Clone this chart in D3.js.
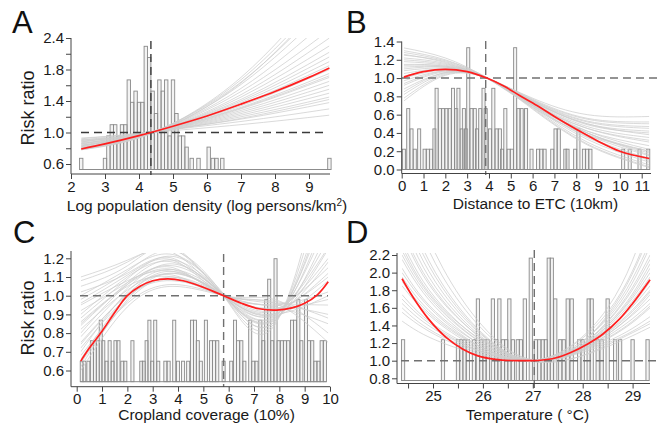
<!DOCTYPE html>
<html>
<head>
<meta charset="utf-8">
<script src="https://cdn.jsdelivr.net/npm/d3@7"></script>
<style>
body { margin: 0; background: #fff; }
</style>
</head>
<body>
<svg id="chart" width="658" height="425"></svg>
<script>
// ---- A: log population density ----
const aBinX = [2.3, 3.0, 3.1, 3.2, 3.3, 3.4, 3.5, 3.6, 3.7, 3.8, 3.9, 4.0, 4.1, 4.2, 4.3, 4.4, 4.5, 4.6, 4.7, 4.8, 4.9, 5.0, 5.1, 5.2, 5.3, 5.4, 5.55, 5.75, 6.05, 6.17, 6.28, 6.45, 9.6];
const aBinN = [1, 1, 3, 4, 4, 3, 4, 4, 8, 6, 7, 6, 6, 11, 10, 7, 5, 8, 7, 8, 3, 8, 5, 3, 3, 2, 1, 1, 2, 1, 1, 1, 1];
const aRedX = [2.3, 3, 4, 5, 6, 7, 8, 9, 9.6];
const aRedY = [0.79, 0.855, 0.96, 1.08, 1.21, 1.36, 1.52, 1.70, 1.82];
const aBootX = [2.3, 4.35, 7, 9.6];
const aBoot = [
  [0.92, 1.0, 1.10, 1.22], [0.85, 1.0, 1.14, 1.30], [0.90, 1.01, 1.17, 1.38],
  [0.82, 0.99, 1.20, 1.45], [0.88, 1.0, 1.22, 1.50], [0.93, 1.01, 1.24, 1.55],
  [0.80, 0.99, 1.26, 1.60], [0.86, 1.0, 1.28, 1.65], [0.91, 1.0, 1.30, 1.70],
  [0.84, 1.0, 1.32, 1.75], [0.89, 1.01, 1.34, 1.80], [0.79, 0.99, 1.36, 1.85],
  [0.87, 1.0, 1.38, 1.90], [0.83, 1.0, 1.40, 1.96], [0.90, 1.01, 1.42, 2.02],
  [0.81, 0.99, 1.45, 2.10], [0.86, 1.0, 1.48, 2.20], [0.78, 0.99, 1.52, 2.30],
  [0.84, 1.0, 1.56, 2.45], [0.80, 0.99, 1.61, 2.60], [0.82, 1.0, 1.64, 2.70],
  [0.79, 0.99, 1.67, 2.80], [0.81, 0.99, 1.70, 2.90], [0.78, 0.98, 1.63, 2.75],
  [0.88, 1.0, 1.18, 1.42], [0.83, 1.0, 1.31, 1.72]
];
const aRef = 4.35;
const aXTicks = [2, 3, 4, 5, 6, 7, 8, 9];
const aYTicks = [0.6, 0.8, 1.0, 1.2, 1.4, 1.6, 1.8, 2.0, 2.2];
const aYLabels = ["0.6", "", "1.0", "", "1.4", "", "1.8", "", "2.4"];

// ---- B: distance to ETC ----
const bBinX = [0.1, 0.3, 0.45, 0.6, 0.8, 1.05, 1.2, 1.35, 1.5, 1.6, 1.75, 1.9, 2.05, 2.2, 2.35, 2.5, 2.6, 2.75, 2.85, 2.95, 3.05, 3.2, 3.35, 3.45, 3.6, 3.75, 3.85, 4.05, 4.2, 4.35, 4.5, 4.6, 4.75, 4.9, 5.05, 5.2, 5.35, 5.5, 5.7, 5.95, 6.25, 6.4, 6.55, 6.9, 7.05, 7.2, 7.5, 7.6, 7.95, 8.1, 8.35, 8.5, 8.65, 10.15, 10.45, 10.9, 11.3];
const bBinN = [1, 3, 2, 1, 2, 1, 1, 1, 2, 4, 3, 3, 3, 3, 4, 3, 4, 2, 3, 2, 6, 3, 3, 2, 3, 4, 3, 2, 4, 2, 2, 1, 3, 1, 1, 6, 3, 3, 3, 1, 1, 1, 1, 1, 2, 2, 1, 1, 1, 2, 1, 1, 1, 1, 1, 1, 1];
const bRedX = [0.1, 1, 2, 3, 3.9, 4.7, 5.4, 6.2, 7, 8, 9, 10, 11.35];
const bRedY = [1.01, 1.07, 1.095, 1.07, 1.0, 0.91, 0.81, 0.70, 0.58, 0.44, 0.31, 0.20, 0.12];
const bBootX = [0.1, 2, 3.9, 6, 8.5, 11.35];
const bBoot = [
  [1.33, 1.22, 1.0, 0.68, 0.38, 0.20], [1.30, 1.20, 1.0, 0.70, 0.42, 0.26],
  [1.28, 1.19, 1.01, 0.72, 0.45, 0.32], [1.25, 1.18, 1.0, 0.74, 0.50, 0.38],
  [1.22, 1.16, 1.0, 0.75, 0.52, 0.45], [1.20, 1.15, 1.0, 0.70, 0.36, 0.12],
  [1.18, 1.14, 1.0, 0.68, 0.30, 0.05], [1.15, 1.13, 1.0, 0.76, 0.55, 0.50],
  [1.12, 1.12, 1.0, 0.78, 0.60, 0.58], [1.10, 1.12, 1.0, 0.72, 0.40, 0.18],
  [1.08, 1.11, 1.0, 0.69, 0.33, 0.08], [1.05, 1.10, 1.0, 0.73, 0.45, 0.30],
  [1.02, 1.10, 1.0, 0.75, 0.49, 0.40], [1.00, 1.09, 1.0, 0.71, 0.38, 0.15],
  [0.97, 1.08, 1.0, 0.74, 0.47, 0.35], [0.94, 1.08, 1.0, 0.67, 0.28, 0.03],
  [0.92, 1.07, 1.0, 0.77, 0.56, 0.52], [0.88, 1.06, 1.0, 0.73, 0.42, 0.22],
  [0.85, 1.06, 1.0, 0.70, 0.35, 0.10], [0.82, 1.05, 1.0, 0.75, 0.50, 0.42],
  [0.78, 1.04, 1.0, 0.72, 0.40, 0.20], [0.75, 1.03, 1.0, 0.76, 0.53, 0.47],
  [1.26, 1.17, 1.0, 0.71, 0.40, 0.16], [1.14, 1.13, 1.0, 0.66, 0.27, 0.02]
];
const bRef = 3.85;
const bXTicks = [0, 1, 2, 3, 4, 5, 6, 7, 8, 9, 10, 11];
const bYTicks = [0, 0.2, 0.4, 0.6, 0.8, 1.0, 1.2, 1.4];
const bYLabels = ["0.0", "0.2", "0.4", "0.6", "0.8", "1.0", "1.2", "1.4"];

// ---- C: cropland coverage ----
const cBinX = [0.2, 0.3, 0.46, 0.6, 0.72, 0.83, 0.95, 1.05, 1.18, 1.3, 1.42, 1.53, 1.65, 1.8, 1.92, 2.2, 2.55, 2.65, 2.76, 2.87, 2.98, 3.1, 3.22, 3.5, 3.63, 3.85, 4.0, 4.2, 4.4, 4.55, 4.67, 4.78, 4.9, 5.1, 5.3, 5.42, 5.55, 5.8, 6.1, 6.25, 6.37, 6.5, 6.62, 6.85, 6.97, 7.1, 7.25, 7.37, 7.48, 7.6, 7.72, 7.85, 7.97, 8.1, 8.22, 8.35, 8.5, 8.62, 8.75, 8.87, 9.05, 9.17, 9.3, 9.42, 9.55, 9.67, 9.8];
const cBinN = [1, 1, 1, 2, 2, 2, 3, 2, 1, 2, 1, 2, 2, 1, 1, 2, 1, 1, 2, 3, 1, 3, 1, 1, 1, 3, 1, 1, 1, 3, 3, 2, 1, 3, 2, 2, 2, 1, 1, 3, 2, 2, 1, 3, 1, 1, 3, 2, 4, 5, 2, 6, 2, 2, 2, 2, 3, 3, 4, 2, 4, 2, 2, 1, 1, 2, 2];
const cRedX = [0.16, 0.5, 1, 1.5, 2, 2.5, 3, 3.6, 4.2, 4.9, 5.8, 6.5, 7.2, 7.9, 8.5, 9.0, 9.5, 9.93];
const cRedY = [0.65, 0.72, 0.81, 0.91, 1.0, 1.05, 1.08, 1.09, 1.08, 1.05, 1.0, 0.96, 0.93, 0.923, 0.935, 0.96, 1.005, 1.075];
const cBootX = [0.16, 2, 3.8, 5.8, 7.8, 9.93];
const cBoot = [
  [0.62, 0.98, 1.12, 1.0, 0.90, 1.30], [0.70, 1.02, 1.14, 1.0, 0.89, 1.40],
  [0.80, 1.06, 1.16, 1.0, 0.88, 1.50], [0.90, 1.10, 1.18, 1.0, 0.87, 1.35],
  [1.00, 1.14, 1.22, 1.01, 0.86, 1.60], [1.08, 1.18, 1.25, 1.0, 0.88, 1.25],
  [0.75, 1.00, 1.08, 1.0, 0.93, 1.10], [0.68, 0.96, 1.06, 1.0, 0.95, 1.02],
  [0.85, 1.05, 1.10, 1.0, 0.94, 1.15], [0.95, 1.08, 1.13, 1.0, 0.92, 1.20],
  [0.60, 0.94, 1.05, 1.0, 0.96, 0.95], [0.72, 0.99, 1.09, 1.0, 0.97, 0.88],
  [0.82, 1.03, 1.11, 1.0, 0.98, 0.80], [0.92, 1.07, 1.15, 1.0, 0.96, 0.75],
  [1.02, 1.12, 1.20, 1.01, 0.94, 0.85], [0.66, 1.00, 1.13, 1.0, 0.90, 1.18],
  [0.78, 1.04, 1.17, 1.0, 0.87, 1.45], [0.88, 1.09, 1.21, 1.0, 0.85, 1.70],
  [0.98, 1.13, 1.24, 1.0, 0.84, 1.80], [1.05, 1.16, 1.26, 1.0, 0.89, 1.08],
  [0.64, 0.97, 1.10, 1.0, 0.92, 1.12], [0.74, 1.01, 1.12, 1.0, 0.91, 1.26],
  [0.86, 1.06, 1.14, 1.0, 0.93, 0.98], [0.96, 1.11, 1.19, 1.0, 0.95, 0.90],
  [1.10, 1.19, 1.23, 1.0, 0.90, 1.00], [0.84, 1.07, 1.19, 1.0, 0.86, 1.55]
];
const cRef = 5.8;
const cXTicks = [0, 1, 2, 3, 4, 5, 6, 7, 8, 9, 10];
const cYTicks = [0.6, 0.7, 0.8, 0.9, 1.0, 1.1, 1.2];
const cYLabels = ["0.6", "0.7", "0.8", "0.9", "1.0", "1.1", "1.2"];

// ---- D: temperature ----
const dBinX = [24.4, 25.2, 25.5, 25.57, 25.63, 25.7, 25.82, 25.9, 25.97, 26.03, 26.1, 26.2, 26.27, 26.33, 26.4, 26.47, 26.53, 26.6, 26.7, 26.76, 26.84, 26.96, 27.06, 27.13, 27.2, 27.26, 27.32, 27.38, 27.45, 27.55, 27.62, 27.7, 27.78, 27.93, 28.0, 28.12, 28.18, 28.3, 28.38, 28.5, 28.65, 28.75, 29.0, 29.3];
const dBinN = [1, 1, 1, 1, 1, 1, 1, 2, 1, 1, 1, 2, 1, 2, 1, 1, 2, 1, 1, 1, 2, 3, 1, 1, 1, 1, 3, 3, 2, 1, 1, 2, 2, 1, 1, 2, 2, 1, 1, 2, 1, 1, 1, 1];
const dRedX = [24.38, 24.6, 24.9, 25.25, 25.6, 25.9, 26.25, 26.55, 26.85, 27.15, 27.45, 27.75, 28.1, 28.4, 28.75, 29.0, 29.35];
const dRedY = [1.93, 1.72, 1.48, 1.27, 1.13, 1.055, 1.015, 1.002, 1.0, 1.005, 1.03, 1.09, 1.19, 1.30, 1.48, 1.65, 1.92];
const dBootX = [24.38, 25.2, 26.9, 28.5, 29.35];
const dBoot = [
  [1.45, 1.20, 1.0, 1.22, 1.50], [1.60, 1.27, 1.0, 1.20, 1.45], [1.75, 1.34, 1.0, 1.25, 1.60],
  [1.90, 1.41, 1.0, 1.28, 1.65], [2.05, 1.48, 1.01, 1.30, 1.75], [2.20, 1.55, 1.0, 1.33, 1.80],
  [2.35, 1.61, 1.0, 1.35, 1.85], [2.50, 1.68, 1.0, 1.38, 1.95], [2.70, 1.77, 1.01, 1.40, 2.05],
  [2.90, 1.86, 1.0, 1.45, 2.20], [3.10, 1.95, 1.02, 1.50, 2.35], [1.55, 1.25, 1.0, 1.36, 1.90],
  [1.70, 1.32, 1.0, 1.42, 2.10], [1.85, 1.39, 1.0, 1.48, 2.30], [2.00, 1.46, 1.0, 1.55, 2.50],
  [2.15, 1.52, 1.0, 1.60, 2.70], [2.30, 1.59, 1.01, 1.16, 1.38], [2.45, 1.66, 1.0, 1.18, 1.42],
  [2.60, 1.72, 1.0, 1.30, 1.70], [2.80, 1.82, 1.0, 1.44, 2.15], [3.30, 2.05, 1.02, 1.52, 2.45],
  [1.65, 1.30, 1.0, 1.26, 1.62], [1.95, 1.43, 1.0, 1.32, 1.78], [2.25, 1.57, 1.0, 1.40, 2.00]
];
const dRef = 27.03;
const dXTicks = [24.5, 25, 25.5, 26, 26.5, 27, 27.5, 28, 28.5, 29];
const dXLabels = ["", "25", "", "26", "", "27", "", "28", "", "29"];
const dYTicks = [0.8, 1.0, 1.2, 1.4, 1.6, 1.8, 2.0, 2.2];
const dYLabels = ["0.8", "1.0", "1.2", "1.4", "1.6", "1.8", "2.0", "2.2"];

const font = '"Liberation Sans", Arial, Helvetica, sans-serif';
const svg = d3.select("#chart");

function drawPanel(p) {
  const x = d3.scaleLinear().domain(p.xDomain).range(p.xRange);
  const y = d3.scaleLinear().domain(p.yDomain).range(p.yRange);
  // histogram counts get their own scale
  const hy = d3.scaleLinear().domain([0, 1]).range([p.histBase, p.histBase - p.histUnit]);
  const g = svg.append("g");

  const x0 = x(p.bootX[0]), x1 = x(p.bootX[p.bootX.length - 1]);
  svg.append("clipPath").attr("id", "clip-" + p.id)
    .append("rect")
    .attr("x", x0).attr("y", p.clipTop)
    .attr("width", x1 - x0).attr("height", p.axisY - p.clipTop);

  // histogram
  const bw = x(p.xDomain[0] + p.binW) - x(p.xDomain[0]);
  g.append("line")
    .attr("x1", x(p.binX[0]) - bw / 2).attr("x2", x(p.binX[p.binX.length - 1]) + bw / 2)
    .attr("y1", hy(0)).attr("y2", hy(0))
    .attr("stroke", "#8c8c8c").attr("stroke-width", 1);
  g.selectAll(".bar")
    .data(p.binX.map((v, i) => ({ x: v, n: p.binN[i] })))
    .join("rect")
    .attr("class", "bar")
    .attr("x", d => x(d.x) - bw / 2)
    .attr("y", d => hy(d.n))
    .attr("width", bw)
    .attr("height", d => hy(0) - hy(d.n))
    .attr("fill", "#d8d8d8").attr("fill-opacity", 0.3)
    .attr("stroke", "#8a8a8a").attr("stroke-width", 0.9);

  // bootstrap curves
  const line = d3.line().x(d => x(d[0])).y(d => y(d[1])).curve(d3.curveNatural);
  g.append("g").attr("clip-path", "url(#clip-" + p.id + ")")
    .selectAll("path")
    .data(p.boot)
    .join("path")
    .attr("d", vals => line(p.bootX.map((xx, i) => [xx, vals[i]])))
    .attr("fill", "none")
    .attr("stroke", "#cdcdcd").attr("stroke-opacity", 0.75).attr("stroke-width", 1);

  // reference lines
  g.append("line")
    .attr("x1", p.hx1).attr("x2", p.hx2)
    .attr("y1", y(1)).attr("y2", y(1))
    .attr("stroke", p.dashColor).attr("stroke-width", 1.4).attr("stroke-dasharray", "8,5");
  g.append("line")
    .attr("x1", x(p.ref)).attr("x2", x(p.ref))
    .attr("y1", p.vy1).attr("y2", p.vy2)
    .attr("stroke", p.dashColor).attr("stroke-width", 1.4).attr("stroke-dasharray", "8,5");

  // fitted curve
  const redLine = d3.line().x(d => x(d[0])).y(d => y(d[1])).curve(d3.curveCatmullRom.alpha(0.5));
  g.append("path")
    .attr("d", redLine(p.redX.map((xx, i) => [xx, p.redY[i]])))
    .attr("fill", "none").attr("stroke", "#ff1f1f").attr("stroke-width", 1.7);

  // axes
  const ya = d3.axisLeft(y).tickValues(p.yTicks)
    .tickFormat((d, i) => p.yLabels[i]).tickSize(5).tickPadding(2).tickSizeOuter(0);
  const gy = g.append("g").attr("transform", "translate(" + p.axisX + ",0)").call(ya);
  gy.select(".domain").remove();
  gy.append("line").attr("y1", p.axisTop).attr("y2", p.axisY).attr("stroke", "#444");

  const xa = d3.axisBottom(x).tickValues(p.xTicks)
    .tickFormat((d, i) => p.xLabels ? p.xLabels[i] : d).tickSize(5).tickPadding(2).tickSizeOuter(0);
  const gx = g.append("g").attr("transform", "translate(0," + p.axisY + ")").call(xa);
  gx.select(".domain").remove();
  gx.append("line").attr("x1", p.axisX).attr("x2", p.axisRight).attr("stroke", "#444");

  [gy, gx].forEach(a => {
    a.attr("font-family", font).attr("font-size", 15);
    a.selectAll(".tick line").attr("stroke", "#444");
    a.selectAll(".tick text").attr("fill", "#1a1a1a");
  });

  // titles
  svg.append("text").attr("x", p.letterX).attr("y", p.letterY)
    .attr("font-family", font).attr("font-size", 31).attr("fill", "#111").text(p.id);
  const xt = svg.append("text").attr("x", p.xTitleX).attr("y", p.xTitleY)
    .attr("text-anchor", "middle").attr("font-family", font).attr("font-size", 15.5).attr("fill", "#1a1a1a");
  p.xTitle.forEach(part => {
    xt.append("tspan").attr("baseline-shift", part.sup ? "super" : null)
      .attr("font-size", part.sup ? 10 : null).text(part.t);
  });
  if (p.yTitle) {
    svg.append("text")
      .attr("transform", "translate(" + p.yTitleX + "," + p.yTitleY + ") rotate(-90)")
      .attr("text-anchor", "middle").attr("font-family", font).attr("font-size", 18).attr("fill", "#1a1a1a")
      .text(p.yTitle);
  }
}

drawPanel({
  id: "A", binX: aBinX, binN: aBinN, binW: 0.1, redX: aRedX, redY: aRedY,
  bootX: aBootX, boot: aBoot, ref: aRef,
  xTicks: aXTicks, yTicks: aYTicks, yLabels: aYLabels,
  xDomain: [2, 9], xRange: [71, 309], yDomain: [0.6, 2.2], yRange: [164, 38],
  histBase: 169.5, histUnit: 11.2, clipTop: 38,
  axisX: 71, axisY: 174, axisTop: 38, axisRight: 330,
  hx1: 81, hx2: 327, vy1: 41, vy2: 175, dashColor: "#3a3a3a",
  letterX: 12, letterY: 33,
  xTitle: [{ t: "Log population density (log persons/km" }, { t: "2", sup: true }, { t: ")" }],
  xTitleX: 207, xTitleY: 210.5,
  yTitle: "Risk ratio", yTitleX: 34, yTitleY: 108
});

drawPanel({
  id: "B", binX: bBinX, binN: bBinN, binW: 0.14, redX: bRedX, redY: bRedY,
  bootX: bBootX, boot: bBoot, ref: bRef,
  xTicks: bXTicks, yTicks: bYTicks, yLabels: bYLabels,
  xDomain: [0, 11], xRange: [401.7, 641.7], yDomain: [0, 1.4], yRange: [169.5, 41.5],
  histBase: 169.5, histUnit: 20.3, clipTop: 41.5,
  axisX: 401.7, axisY: 173.5, axisTop: 41.5, axisRight: 651,
  hx1: 402, hx2: 657, vy1: 41, vy2: 175, dashColor: "#707070",
  letterX: 346, letterY: 33,
  xTitle: [{ t: "Distance to ETC (10km)" }],
  xTitleX: 535.5, xTitleY: 208.5
});

drawPanel({
  id: "C", binX: cBinX, binN: cBinN, binW: 0.12, redX: cRedX, redY: cRedY,
  bootX: cBootX, boot: cBoot, ref: cRef,
  xTicks: cXTicks, yTicks: cYTicks, yLabels: cYLabels,
  xDomain: [0, 10], xRange: [76.7, 330], yDomain: [0.6, 1.2], yRange: [370.5, 258.3],
  histBase: 381.7, histUnit: 20.5, clipTop: 253,
  axisX: 71, axisY: 386.7, axisTop: 251, axisRight: 330,
  hx1: 80, hx2: 328, vy1: 254, vy2: 387, dashColor: "#707070",
  letterX: 13, letterY: 243,
  xTitle: [{ t: "Cropland coverage (10%)" }],
  xTitleX: 206.5, xTitleY: 420,
  yTitle: "Risk ratio", yTitleX: 34, yTitleY: 318
});

drawPanel({
  id: "D", binX: dBinX, binN: dBinN, binW: 0.065, redX: dRedX, redY: dRedY,
  bootX: dBootX, boot: dBoot, ref: dRef,
  xTicks: dXTicks, xLabels: dXLabels, yTicks: dYTicks, yLabels: dYLabels,
  xDomain: [25, 29], xRange: [433, 632.6], yDomain: [0.8, 2.2], yRange: [378.3, 255],
  histBase: 380.5, histUnit: 40.8, clipTop: 253,
  axisX: 397, axisY: 383.5, axisTop: 253, axisRight: 650,
  hx1: 401, hx2: 657, vy1: 250, vy2: 388, dashColor: "#707070",
  letterX: 346, letterY: 243,
  xTitle: [{ t: "Temperature ( °C)" }],
  xTitleX: 527.5, xTitleY: 420
});
</script>
</body>
</html>
